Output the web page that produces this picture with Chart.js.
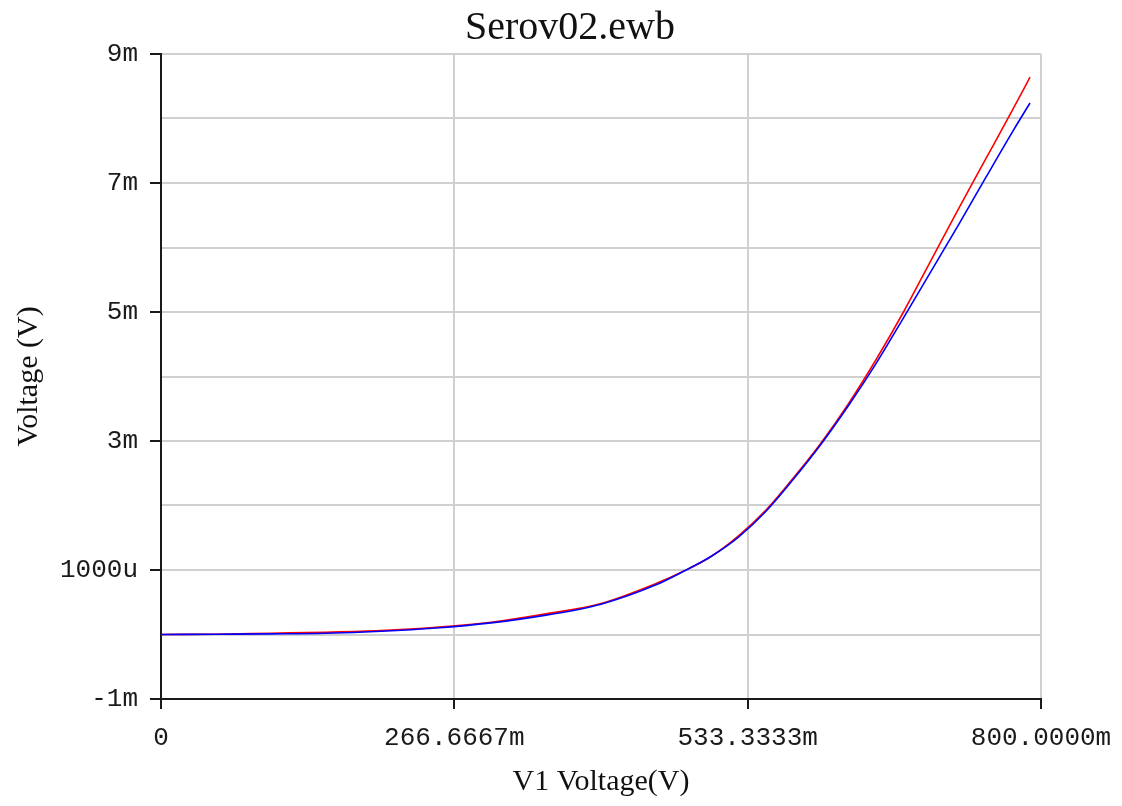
<!DOCTYPE html>
<html>
<head>
<meta charset="utf-8">
<title>Serov02.ewb</title>
<script src="https://cdn.jsdelivr.net/npm/chart.js@4.4.1/dist/chart.umd.min.js"></script>
<style>
  html, body { margin: 0; padding: 0; background: #fff; }
  #wrap { width: 1122px; height: 806px; }
</style>
</head>
<body>
<div id="wrap"><canvas id="chart" width="1122" height="806"></canvas></div>
<script>
// DC sweep of V1, all values in mV
const sweepV1 = [0, 50, 100, 150, 200, 250, 300, 350, 400, 450, 475, 500, 525, 550, 575, 600, 625, 650, 675, 700, 725, 750, 775, 790];
const traceRed = [0, 0.005, 0.02, 0.035, 0.06, 0.11, 0.19, 0.32, 0.48, 0.79, 0.98, 1.21, 1.53, 1.93, 2.43, 2.97, 3.58, 4.26, 5.0, 5.8, 6.6, 7.38, 8.16, 8.64];
const traceBlue = [0, 0.005, 0.01, 0.02, 0.05, 0.10, 0.18, 0.30, 0.47, 0.77, 0.98, 1.21, 1.51, 1.91, 2.41, 2.95, 3.55, 4.2, 4.91, 5.63, 6.35, 7.09, 7.82, 8.24];

const xTickValues = [0, 800 / 3, 1600 / 3, 800];
const xTickLabels = ['0', '266.6667m', '533.3333m', '800.0000m'];
const yTickLabels = { '-1': '-1m', '1': '1000u', '3': '3m', '5': '5m', '7': '7m', '9': '9m' };

const monoFont = { family: '"Liberation Mono", "Courier New", monospace', size: 26 };
const serifFont = { family: '"Liberation Serif", "Times New Roman", serif', size: 30 };
const gridGray = '#d0d0d0';
const axisInk = '#1a1a1a';

function toPoints(values) {
    return sweepV1.map((x, i) => ({ x: x, y: values[i] }));
}

// plot caption above the chart area
const captionPlugin = {
    id: 'caption',
    afterDraw(chart) {
        const ctx = chart.ctx;
        ctx.save();
        ctx.font = '40px "Liberation Serif", "Times New Roman", serif';
        ctx.fillStyle = '#111';
        ctx.textAlign = 'center';
        ctx.textBaseline = 'alphabetic';
        ctx.fillText('Serov02.ewb', 570, 39);
        ctx.restore();
    }
};

new Chart(document.getElementById('chart'), {
    type: 'scatter',
    data: {
        datasets: [
            {
                data: toPoints(traceBlue),
                showLine: true,
                borderColor: '#0000ff',
                borderWidth: 1.6,
                pointRadius: 0,
                cubicInterpolationMode: 'monotone',
            },
            {
                data: toPoints(traceRed),
                showLine: true,
                borderColor: '#ff0000',
                borderWidth: 1.6,
                pointRadius: 0,
                cubicInterpolationMode: 'monotone',
            },
        ],
    },
    options: {
        responsive: false,
        animation: false,
        layout: { padding: { top: 54, right: 81, left: 0, bottom: 0 } },
        plugins: {
            legend: { display: false },
            tooltip: { enabled: false },
        },
        scales: {
            x: {
                type: 'linear',
                min: 0,
                max: 800,
                afterBuildTicks: (scale) => {
                    scale.ticks = xTickValues.map((v) => ({ value: v }));
                },
                afterFit: (scale) => {
                    scale.height = 107;
                    // last label may hang past the plot; the layout padding already leaves room
                    scale.paddingRight = 0;
                    scale.paddingLeft = 0;
                },
                ticks: {
                    callback: (v, i) => xTickLabels[i],
                    font: monoFont,
                    color: axisInk,
                    padding: 14,
                    maxRotation: 0,
                    autoSkip: false,
                },
                grid: {
                    color: gridGray,
                    lineWidth: 2,
                    tickLength: 10,
                    tickColor: axisInk,
                    tickWidth: 2,
                },
                border: { color: axisInk, width: 2 },
                title: {
                    display: true,
                    text: 'V1 Voltage(V)',
                    font: serifFont,
                    color: '#111',
                    padding: { top: 0, bottom: 6 },
                },
            },
            y: {
                min: -1,
                max: 9,
                afterFit: (scale) => { scale.width = 161; },
                ticks: {
                    stepSize: 1,
                    autoSkip: false,
                    callback: (v) => yTickLabels[String(v)] ?? '',
                    font: monoFont,
                    color: axisInk,
                    padding: 12,
                },
                grid: {
                    color: gridGray,
                    lineWidth: 2,
                    tickLength: 11,
                    tickWidth: 2,
                    tickColor: (ctx) => (ctx.tick && yTickLabels[String(ctx.tick.value)] !== undefined) ? axisInk : 'rgba(0,0,0,0)',
                },
                border: { color: axisInk, width: 2 },
                title: {
                    display: true,
                    text: 'Voltage (V)',
                    font: serifFont,
                    color: '#111',
                    padding: { top: 11, bottom: 0 },
                },
            },
        },
    },
    plugins: [captionPlugin],
});
</script>
</body>
</html>
